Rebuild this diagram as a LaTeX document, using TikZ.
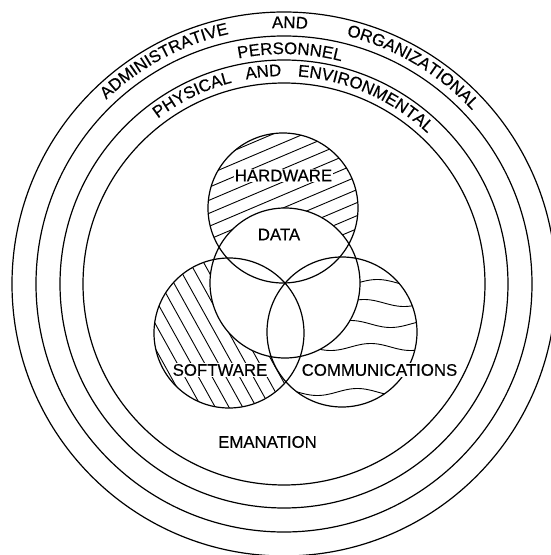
\documentclass[tikz,border=0pt]{standalone}
\usepackage{fontspec}
\newfontfamily\labelfont[FakeBold=0.35]{Liberation Sans}
\usetikzlibrary{decorations.text}
\newcommand\lblfont{\labelfont\fontsize{16.8}{18}\selectfont}
\tikzset{
  ring/.style={draw=black, line width=1.2pt},
  venn/.style={draw=black, line width=1.2pt},
  hatch/.style={draw=black, line width=0.9pt},
  lbl/.style={font=\lblfont, fill=white, inner sep=1pt},
}
\newcommand\arcword[3]{%
  \path[decorate, decoration={text along path, text={|\lblfont|#3}, text align=center}]
    ({#1+40}:#2pt) arc[start angle={#1+40}, end angle={#1-40}, radius=#2pt];}
\begin{document}
\begin{tikzpicture}[x=1pt,y=1pt]
\useasboundingbox (-284,-271) rectangle (266,284);
\fill[white] (-284,-271) rectangle (266,284);
% centres
\coordinate (D) at (1,1);
\coordinate (H) at (-1,76);
\coordinate (S) at (-55,-49);
\coordinate (C) at (58,-48);
% hardware hatch
\begin{scope}
  \clip (H) circle[radius=75pt];
  \begin{scope}[shift={(H)}, rotate=23]
    \foreach \k in {-7,...,7} \draw[hatch] (-100,\k*12) -- (100,\k*12);
  \end{scope}
\end{scope}
% software hatch
\begin{scope}
  \clip (S) circle[radius=75pt];
  \begin{scope}[shift={(S)}, rotate=-61]
    \foreach \k in {-7,...,7} \draw[hatch] (-100,\k*12) -- (100,\k*12);
  \end{scope}
\end{scope}
% communications waves
\begin{scope}
  \clip (C) circle[radius=75pt];
  \foreach \yy/\ph in {1/30, -19/90, -40/150, -63/60, -108/120}
    \draw[hatch] plot[domain=-20:140, samples=80, smooth] (\x, {\yy + 3.5*sin(4.5*\x + \ph)});
\end{scope}
% white overlaps
\fill[white] (D) circle[radius=75pt];
\begin{scope}
  \clip (S) circle[radius=75pt];
  \fill[white] (C) circle[radius=75pt];
\end{scope}
% rings
\foreach \r in {201,224,248,272} \draw[ring] (0,0) circle[radius=\r pt];
% venn circles
\draw[venn] (H) circle[radius=75pt];
\draw[venn] (D) circle[radius=75pt];
\draw[venn] (S) circle[radius=75pt];
\draw[venn] (C) circle[radius=75pt];
% labels
\node[lbl] (hw) at (-0.5,108.5) {HARDWARE};
\node[lbl, fill=none] (data) at (-5,49.5) {DATA};
\node[lbl] (sw) at (-64,-86) {SOFTWARE};
\node[lbl] (comm) at (95.5,-86) {COMMUNICATIONS};
\node[lbl, fill=none] (eman) at (-16.5,-158) {EMANATION};
% arc texts
\arcword{118.2}{256}{ADMINISTRATIVE}
\arcword{88.7}{256}{AND}
\arcword{59.3}{256}{ORGANIZATIONAL}
\arcword{88.5}{230}{PERSONNEL}
\arcword{115.9}{208}{PHYSICAL}
\arcword{95.6}{208}{AND}
\arcword{66.3}{208}{ENVIRONMENTAL}
\end{tikzpicture}
\end{document}
